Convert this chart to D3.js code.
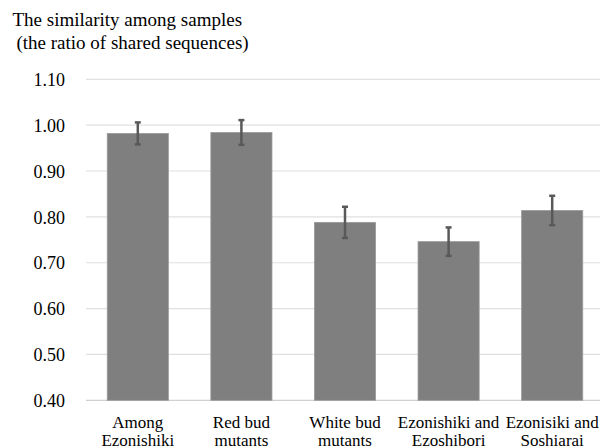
<!DOCTYPE html>
<html>
<head>
<meta charset="utf-8">
<script src="https://cdn.jsdelivr.net/npm/d3@7"></script>
<style>
  html, body { margin: 0; padding: 0; background: #fff; }
</style>
</head>
<body>
<svg id="chart" width="600" height="448"></svg>
<script>
const titleLines = ["The similarity among samples", "(the ratio of shared sequences)"];
const categories = [
  ["Among", "Ezonishiki"],
  ["Red bud", "mutants"],
  ["White bud", "mutants"],
  ["Ezonishiki and", "Ezoshibori"],
  ["Ezonisiki and", "Soshiarai"]
];
const values = [0.982, 0.984, 0.788, 0.746, 0.814];
const errors = [0.024, 0.027, 0.034, 0.031, 0.032];
const yTicks = [0.40, 0.50, 0.60, 0.70, 0.80, 0.90, 1.00, 1.10];

(function () {
function pickFont(cands) {
  const c = document.createElement("canvas").getContext("2d");
  const s = "The similarity among samples 0.123";
  for (const f of cands) {
    let avail = false;
    for (const base of ["monospace", "sans-serif"]) {
      c.font = "40px " + base; const w0 = c.measureText(s).width;
      c.font = "40px '" + f + "', " + base; const w1 = c.measureText(s).width;
      if (Math.abs(w1 - w0) > 0.5) { avail = true; break; }
    }
    if (avail) return "'" + f + "', serif";
  }
  return "serif";
}
const FONT = pickFont(["Liberation Serif", "Times New Roman", "Tinos", "DejaVu Serif", "Noto Serif", "Nimbus Roman", "FreeSerif", "Noto Serif CJK JP", "Noto Serif CJK SC", "Times"]);
const svg = d3.select("#chart").attr("font-family", FONT);
const mLeft = 86, mRight = 604, mTop = 79.3, mBottom = 400.3;

const x = d3.scaleBand().domain(d3.range(categories.length)).range([mLeft, mRight]).paddingInner(0.41).paddingOuter(0.205);
const y = d3.scaleLinear().domain([0.4, 1.1]).range([mBottom, mTop]);

svg.append("g").selectAll("line").data(yTicks).join("line")
  .attr("x1", mLeft).attr("x2", 600)
  .attr("y1", d => y(d)).attr("y2", d => y(d))
  .attr("stroke", d => d === 0.4 ? "#d0d0d0" : "#e0e0e0").attr("stroke-width", 1.2);

svg.append("g").selectAll("text").data(yTicks).join("text")
  .attr("font-family", FONT)
  .attr("x", 65).attr("y", d => y(d)).attr("dy", "0.37em")
  .attr("text-anchor", "end").attr("font-size", 18)
  .text(d => d3.format(".2f")(d));

svg.append("g").selectAll("rect").data(values).join("rect")
  .attr("x", (d, i) => x(i)).attr("width", x.bandwidth())
  .attr("y", d => y(d)).attr("height", d => y(0.4) - y(d))
  .attr("fill", "#7f7f7f").attr("stroke", "#9a9a9a").attr("stroke-width", 0.8);

const eg = svg.append("g").attr("stroke", "#595959");
values.forEach((v, i) => {
  const cx = x(i) + x.bandwidth() / 2;
  eg.append("line").attr("x1", cx).attr("x2", cx)
    .attr("y1", y(v + errors[i])).attr("y2", y(v - errors[i])).attr("stroke-width", 2.5);
  [v + errors[i], v - errors[i]].forEach(e => {
    eg.append("line").attr("x1", cx - 3).attr("x2", cx + 3)
      .attr("y1", y(e)).attr("y2", y(e)).attr("stroke-width", 2.5);
  });
});

const xl = svg.append("g");
categories.forEach((lines, i) => {
  const cx = x(i) + x.bandwidth() / 2;
  lines.forEach((t, j) => {
    xl.append("text").attr("font-family", FONT)
      .attr("x", cx).attr("y", 428 + j * 17.5)
      .attr("text-anchor", "middle").attr("font-size", 17).text(t);
  });
});

svg.append("text").attr("font-family", FONT).attr("x", 12.5).attr("y", 26).attr("font-size", 19).text(titleLines[0]);
svg.append("text").attr("font-family", FONT).attr("x", 16.5).attr("y", 49).attr("font-size", 19).text(titleLines[1]);
})();
</script>
</body>
</html>
